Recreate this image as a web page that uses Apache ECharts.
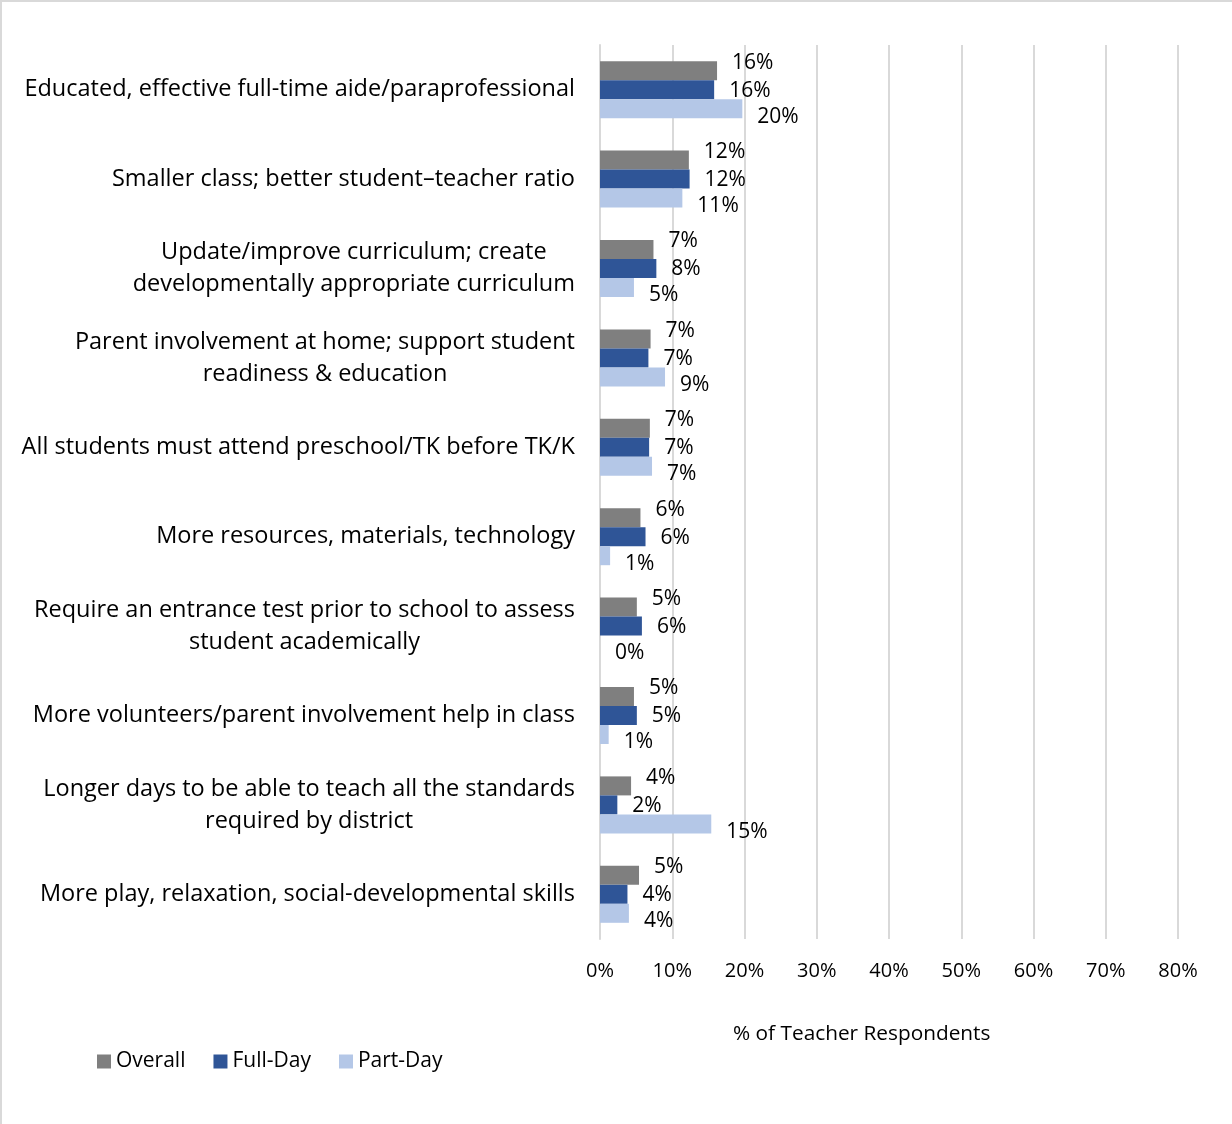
<!DOCTYPE html>
<html>
<head>
<meta charset="utf-8">
<script src="https://cdn.jsdelivr.net/npm/echarts@6/dist/echarts.min.js"></script>
<style>
html,body{margin:0;padding:0;background:#fff;}
#wrap{position:absolute;left:0;top:0;width:1232px;height:1124px;box-sizing:border-box;border-left:2px solid #D9D9D9;border-top:2px solid #D9D9D9;}
#chart{position:absolute;left:0;top:0;width:1232px;height:1124px;}
</style>
</head>
<body>
<div id="wrap"></div>
<div id="chart"></div>
<script>
const categories = [
  "Educated, effective full-time aide/paraprofessional",
  "Smaller class; better student\u2013teacher ratio",
  "Update/improve curriculum; create\ndevelopmentally appropriate curriculum",
  "Parent involvement at home; support student\nreadiness & education",
  "All students must attend preschool/TK before TK/K",
  "More resources, materials, technology",
  "Require an entrance test prior to school to assess\nstudent academically",
  "More volunteers/parent involvement help in class",
  "Longer days to be able to teach all the standards\nrequired by district",
  "More play, relaxation, social-developmental skills"
];
const overall = [16.2, 12.3, 7.4, 7.0, 6.9, 5.6, 5.1, 4.7, 4.3, 5.4];
const fullDay = [15.8, 12.4, 7.8, 6.7, 6.8, 6.3, 5.8, 5.1, 2.4, 3.8];
const partDay = [19.7, 11.4, 4.7, 9.0, 7.2, 1.4, 0.0, 1.2, 15.4, 4.0];
const seriesNames = ["Overall", "Full-Day", "Part-Day"];
const xTicks = [0, 10, 20, 30, 40, 50, 60, 70, 80];

const FONT = "Open Sans";
const colors = ["#7F7F7F", "#2F5597", "#B4C7E7"];
const labelOffsets = [[0, -8], [0, 1], [0, 8]];

const chart = echarts.init(document.getElementById('chart'), null, {renderer: 'canvas'});

function mkSeries(name, data, idx) {
  return {
    name: name,
    type: 'bar',
    data: data,
    barWidth: 19,
    barGap: '0%',
    itemStyle: {color: colors[idx]},
    label: {
      show: true,
      position: 'right',
      distance: 15,
      offset: labelOffsets[idx],
      formatter: p => Math.round(p.value) + '%',
      fontFamily: FONT,
      fontSize: 21,
      color: '#000'
    }
  };
}

chart.setOption({
  animation: false,
  textStyle: {fontFamily: FONT},
  color: colors,
  grid: {left: 600, right: 54, top: 45, bottom: 185, containLabel: false},
  legend: {
    left: 92, top: 1046,
    itemWidth: 14, itemHeight: 14, itemGap: 28,
    icon: 'rect',
    textStyle: {fontFamily: FONT, fontSize: 21, color: '#000'},
    data: seriesNames
  },
  xAxis: {
    type: 'value',
    min: xTicks[0], max: xTicks[xTicks.length - 1], interval: 10,
    axisLine: {show: false},
    axisTick: {show: false},
    splitLine: {show: true, lineStyle: {color: '#D9D9D9', width: 2}},
    axisLabel: {
      formatter: v => v + '%',
      fontFamily: FONT, fontSize: 20, color: '#000', margin: 22
    }
  },
  yAxis: {
    type: 'category',
    inverse: true,
    data: categories,
    axisLine: {show: true, lineStyle: {color: '#D9D9D9', width: 2}},
    axisTick: {show: false},
    axisLabel: {
      margin: 25,
      formatter: v => v.split('\n').map(s => '{c|' + s + '}').join('\n'),
      rich: {c: {align: 'center', fontFamily: FONT, fontSize: 23.5, color: '#000', lineHeight: 32}}
    }
  },
  graphic: [{
    type: 'text',
    left: 733, top: 1024,
    style: {text: '% of Teacher Respondents', fontFamily: FONT, fontSize: 20.8, fill: '#000'}
  }],
  series: [
    mkSeries(seriesNames[0], overall, 0),
    mkSeries(seriesNames[1], fullDay, 1),
    mkSeries(seriesNames[2], partDay, 2)
  ]
});
</script>
</body>
</html>
